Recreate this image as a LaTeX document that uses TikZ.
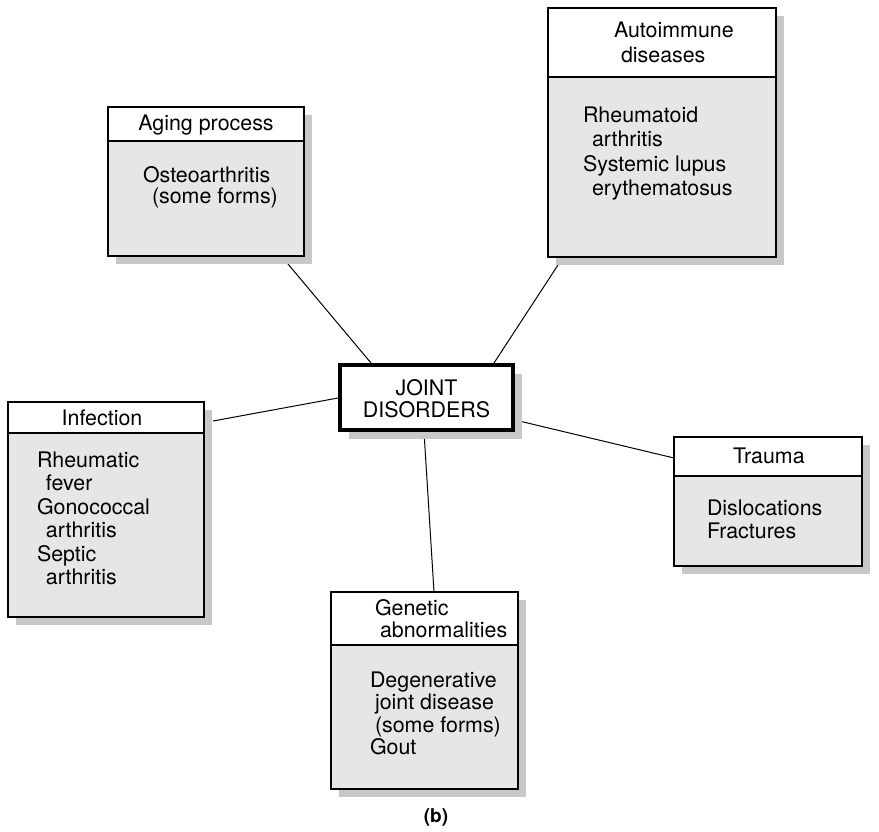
\documentclass[tikz,border=0pt]{standalone}
\usepackage{fontspec}
\setmainfont{TeX Gyre Heros}
\usetikzlibrary{shadows}
\definecolor{bodygray}{HTML}{E6E6E6}
\definecolor{shadgray}{HTML}{C8C8C8}
\newcommand\lns[2][23pt]{\vtop{\baselineskip=#1\relax\lineskiplimit=-20pt\relax #2}}
\newcommand\ind[1]{\hbox{\hspace*{9pt}#1}}
\begin{document}
\begin{tikzpicture}[x=1pt,y=-1pt,
  box/.style={draw=black, line width=1.3pt, fill=bodygray, anchor=north west,
    inner sep=0pt, outer sep=0pt,
    drop shadow={shadow xshift=8pt, shadow yshift=-8pt, fill=shadgray, opacity=1}},
  hdr/.style={draw=black, line width=1.3pt, fill=white, anchor=north west, inner sep=0pt, outer sep=0pt},
  centerbox/.style={draw=black, line width=4.5pt, fill=white, anchor=north west,
    inner sep=0pt, outer sep=0pt,
    drop shadow={shadow xshift=9pt, shadow yshift=-9pt, fill=shadgray, opacity=1}},
  txt/.style={inner sep=0pt, outer sep=0pt, anchor=base west, font=\fontsize{21.4pt}{23pt}\selectfont},
  link/.style={draw=black, line width=1pt}]
\useasboundingbox (0,0) rectangle (879,831);
\fill[white] (0,0) rectangle (879,831);

% connector endpoints
\coordinate (a1) at (288,264); \coordinate (a2) at (371,363);
\coordinate (b1) at (558,265); \coordinate (b2) at (494,363);
\coordinate (c1) at (213,421); \coordinate (c2) at (338,398);
\coordinate (d1) at (515,420); \coordinate (d2) at (674,458);
\coordinate (e1) at (424,432); \coordinate (e2) at (434,592);
\draw[link] (a1) -- (a2);
\draw[link] (b1) -- (b2);
\draw[link] (c1) -- (c2);
\draw[link] (d1) -- (d2);
\draw[link] (e1) -- (e2);

% Aging process
\node[box, minimum width=196pt, minimum height=149pt] (aging) at (108,107) {};
\node[hdr, minimum width=196pt, minimum height=34pt] (agingh) at (108,107) {};
\node[txt, anchor=base] (agingt) at (206,130) {Aging process};
\node[txt] (agingb) at (143,182) {\lns[21pt]{\hbox{Osteoarthritis}\ind{(some forms)}}};

% Autoimmune diseases
\node[box, minimum width=228pt, minimum height=249pt] (auto) at (548,8) {};
\node[hdr, minimum width=228pt, minimum height=69pt] (autoh) at (548,8) {};
\node[txt] (autot) at (614,37) {\lns[25pt]{\hbox{Autoimmune}\hbox{\hspace*{7pt}diseases}}};
\node[txt] (autob) at (583,122) {\lns[24.5pt]{\hbox{Rheumatoid}\ind{arthritis}\hbox{Systemic lupus}\ind{erythematosus}}};

% Joint disorders
\node[centerbox, minimum width=173pt, minimum height=65pt] (joint) at (340,365) {};
\node[txt] (jointt) at (426,395) {\lns[22pt]{\hbox to 0pt{\hss JOINT\hss}\hbox to 0pt{\hss DISORDERS\hss}}};

% Infection
\node[box, minimum width=196pt, minimum height=215pt] (inf) at (8,402) {};
\node[hdr, minimum width=196pt, minimum height=31pt] (infh) at (8,402) {};
\node[txt, anchor=base] (inft) at (102,425) {Infection};
\node[txt] (infb) at (37,467) {\lns[23.5pt]{\hbox{Rheumatic}\ind{fever}\hbox{Gonococcal}\ind{arthritis}\hbox{Septic}\ind{arthritis}}};

% Trauma
\node[box, minimum width=188pt, minimum height=129pt] (trauma) at (674,437) {};
\node[hdr, minimum width=188pt, minimum height=39pt] (traumah) at (674,437) {};
\node[txt] (traumat) at (733,463) {Trauma};
\node[txt] (traumab) at (707,515) {\lns[23pt]{\hbox{Dislocations}\hbox{Fractures}}};

% Genetic abnormalities
\node[box, minimum width=187pt, minimum height=197pt] (gen) at (331,592) {};
\node[hdr, minimum width=187pt, minimum height=53pt] (genh) at (331,592) {};
\node[txt] (gent) at (375,615) {\lns[22pt]{\hbox{Genetic}\hbox{\hspace*{5pt}abnormalities}}};
\node[txt] (genb) at (370,687) {\lns[22.5pt]{\hbox{Degenerative}\hbox{\hspace*{5pt}joint disease}\hbox{\hspace*{5pt}(some forms)}\hbox{Gout}}};

% caption
\node[txt, anchor=base, font=\fontsize{19pt}{21pt}\selectfont\bfseries] (cap) at (436,822) {(b)};
\end{tikzpicture}
\end{document}
